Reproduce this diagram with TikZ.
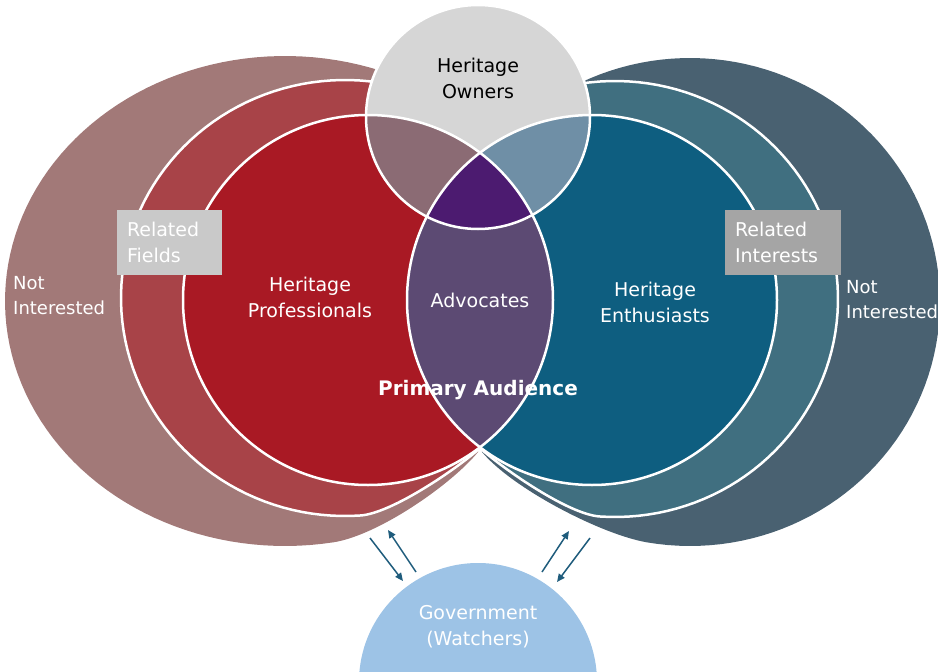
\documentclass[tikz,border=0pt]{standalone}
\usepackage{fontspec}
\setmainfont{DejaVu Sans}
\usetikzlibrary{arrows.meta}

\definecolor{outerred}{RGB}{162,121,120}
\definecolor{midred}{RGB}{168,67,72}
\definecolor{profred}{RGB}{169,25,36}
\definecolor{outerblue}{RGB}{73,97,113}
\definecolor{midblue}{RGB}{64,111,128}
\definecolor{enthblue}{RGB}{14,94,128}
\definecolor{advpurple}{RGB}{92,74,115}
\definecolor{ownergray}{RGB}{214,214,214}
\definecolor{ownred}{RGB}{139,107,116}
\definecolor{ownblue}{RGB}{111,143,166}
\definecolor{allpurple}{RGB}{76,27,112}
\definecolor{govblue}{RGB}{157,195,230}
\definecolor{fieldgray}{RGB}{201,201,201}
\definecolor{interestgray}{RGB}{165,165,165}
\definecolor{arrowteal}{RGB}{31,92,124}

\tikzset{
  rim/.style={draw=white, line width=2.5pt, line join=round},
  lbl/.style={text=white, font=\fontsize{19}{26}\selectfont, align=center},
  tagbox/.style={lbl, align=left, inner xsep=10pt, inner ysep=0pt,
    minimum height=65pt},
  flow/.style={draw=arrowteal, line width=1.5pt,
    -{Triangle[length=8pt,width=7pt]}}
}

\begin{document}
\begin{tikzpicture}[x=1pt, y=-1pt]
  % frame
  \useasboundingbox (0,0) rectangle (938,672);
  \clip (0,0) rectangle (938,672);
  % centres
  \coordinate (pro) at (368,300);
  \coordinate (ent) at (592,300);
  \coordinate (own) at (478,117);
  \coordinate (gov) at (478,682);
  % not interested
  \fill[outerred] plot[domain=80:290, samples=90]
    ({285+280*cos(\x)},{301+245*sin(\x)}) -- (430,100) -- (480,300)
    -- (478,452) .. controls (452,484) and (379,535) .. (333.6,542.3)
    -- cycle;
  \fill[outerblue] plot[domain=-116:100, samples=90]
    ({690+250*cos(\x)},{302+244*sin(\x)})
    .. controls (600,534) and (512,488) .. (482,452) -- (480,300)
    -- (530,100) -- cycle;
  % related rings
  \filldraw[midred, rim] plot[domain=-274:-76, samples=80]
    ({345+224*cos(\x)},{298+218*sin(\x)}) -- (480,160) -- (479,449)
    .. controls (455,470) and (392,513) .. (360.6,515.5) -- cycle;
  \filldraw[midblue, rim] plot[domain=-104:94, samples=80]
    ({615+223*cos(\x)},{299+218*sin(\x)})
    .. controls (568,514) and (505,470) .. (481,449) -- (480,160) -- cycle;
  % primary circles
  \fill[profred] (pro) circle[radius=185pt];
  \fill[enthblue] (ent) circle[radius=185pt];
  \begin{scope}
    \clip (pro) circle[radius=185pt];
    \fill[advpurple] (ent) circle[radius=185pt];
  \end{scope}
  % owners
  \fill[ownergray] (own) circle[radius=112pt];
  \begin{scope}
    \clip (own) circle[radius=112pt];
    \fill[ownred] (pro) circle[radius=185pt];
    \fill[ownblue] (ent) circle[radius=185pt];
    \clip (pro) circle[radius=185pt];
    \fill[allpurple] (ent) circle[radius=185pt];
  \end{scope}
  \draw[rim] (pro) circle[radius=185pt];
  \draw[rim] (ent) circle[radius=185pt];
  \draw[rim] (own) circle[radius=112pt];
  % government
  \fill[govblue] (gov) circle[radius=119pt];
  % arrows
  \coordinate (fa) at (370,538);
  \coordinate (fb) at (403,581);
  \coordinate (fc) at (416,572);
  \coordinate (fd) at (388,530);
  \coordinate (ia) at (542,572);
  \coordinate (ib) at (569,531);
  \coordinate (ic) at (590,538);
  \coordinate (id) at (557,582);
  \draw[flow] (fa) -- (fb);
  \draw[flow] (fc) -- (fd);
  \draw[flow] (ia) -- (ib);
  \draw[flow] (ic) -- (id);
  % labels
  \node[lbl, text=black] (owners) at (478,78) {Heritage\\Owners};
  \node[lbl] (profs) at (310,297) {Heritage\\Professionals};
  \node[lbl] (advocates) at (480,300) {Advocates};
  \node[lbl] (enths) at (655,302) {Heritage\\Enthusiasts};
  \node[lbl, font=\fontsize{20}{26}\bfseries] (primary) at (478,390)
    {Primary Audience};
  \node[tagbox, fill=fieldgray, text width=85pt] (fields) at (169.5,242.5)
    {Related\\Fields};
  \node[tagbox, fill=interestgray, text width=96pt] (interests)
    at (783,242.5) {Related\\Interests};
  \node[lbl, align=left, anchor=west, inner sep=0pt,
    font=\fontsize{18}{25}\selectfont] (notleft) at (13,296)
    {Not\\Interested};
  \node[lbl, align=left, anchor=west, inner sep=0pt,
    font=\fontsize{18}{25}\selectfont] (notright) at (846,300)
    {Not\\Interested};
  \node[lbl] (govtext) at (478,627) {Government\\(Watchers)};
\end{tikzpicture}
\end{document}
